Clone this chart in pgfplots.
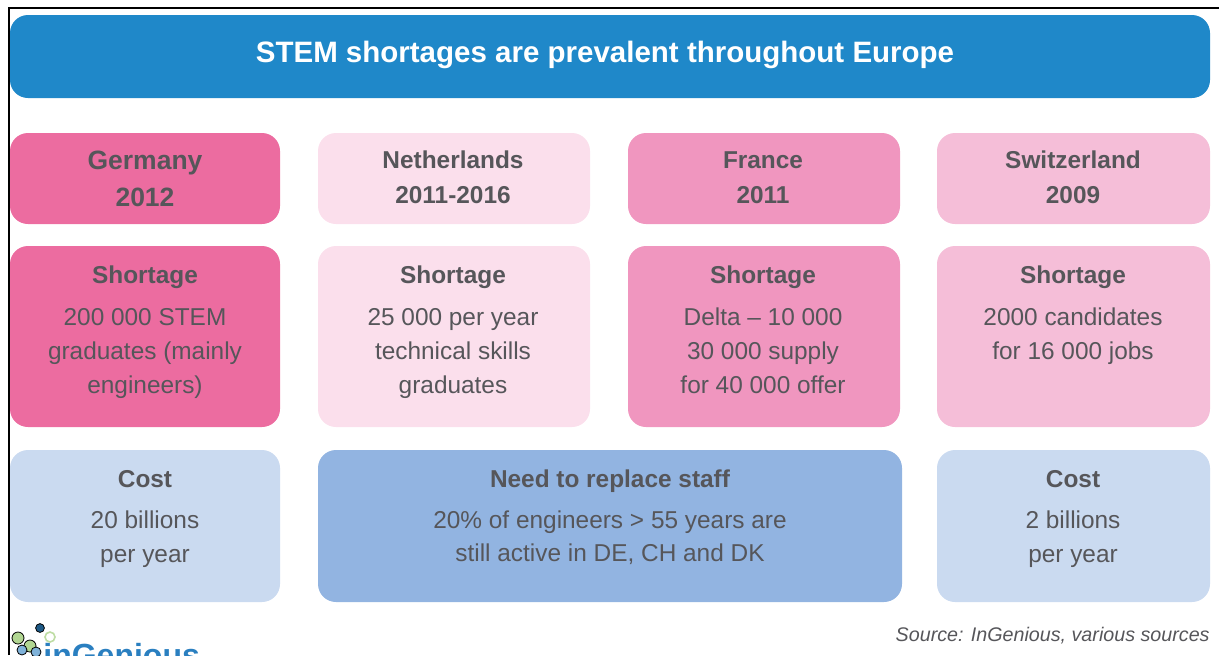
\documentclass[border=0pt]{standalone}
\usepackage{pgfplots}
\pgfplotsset{compat=1.18}
\usepackage{fontspec}
\setmainfont{Liberation Sans}
\definecolor{titlebg}{HTML}{1F88C9}
\definecolor{de}{HTML}{EC6CA0}
\definecolor{nl}{HTML}{FBDFEC}
\definecolor{fr}{HTML}{F096BF}
\definecolor{ch}{HTML}{F5BED8}
\definecolor{cost}{HTML}{CADAF0}
\definecolor{need}{HTML}{92B4E1}
\definecolor{tc}{HTML}{56565A}
\definecolor{logob}{HTML}{2A7FC0}
\definecolor{logog}{HTML}{7DBB4A}
\tikzset{
  hd/.style={font=\fontsize{12.2}{14}\selectfont\bfseries, text=tc, text height=8.7pt, text depth=0pt, inner sep=0pt},
  bd/.style={font=\fontsize{12.2}{14}\selectfont, text=tc, text height=8.7pt, text depth=0pt, inner sep=0pt},
}
% x1 y1 x2 y2 xmid color
\newcommand{\rbox}[6]{%
  \addplot[fill=#6, draw=none, rounded corners=9pt, forget plot]
    coordinates {(#5,#2) (#3,#2) (#3,#4) (#1,#4) (#1,#2)} -- cycle;}
\begin{document}
\begin{tikzpicture}
\begin{axis}[
  scale only axis, width=609.5pt, height=327.5pt,
  xmin=0, xmax=1219, ymin=0, ymax=655, y dir=reverse,
  hide axis, clip=true,
]
% title bar
\rbox{10}{15}{1210}{98}{610}{titlebg}
% row 1
\rbox{10}{133}{280}{224}{145}{de}
\rbox{318}{133}{590}{224}{454}{nl}
\rbox{628}{133}{900}{224}{764}{fr}
\rbox{937}{133}{1210}{224}{1073}{ch}
% row 2
\rbox{10}{246}{280}{427}{145}{de}
\rbox{318}{246}{590}{427}{454}{nl}
\rbox{628}{246}{900}{427}{764}{fr}
\rbox{937}{246}{1210}{427}{1073}{ch}
% row 3
\rbox{10}{450}{280}{602}{145}{cost}
\rbox{318}{450}{902}{602}{610}{need}
\rbox{937}{450}{1210}{602}{1073}{cost}
% logo dots
\addplot[only marks, mark=*, mark size=2.2pt, draw=none, fill=logob!70!black, forget plot] coordinates {(40,628)};
\addplot[only marks, mark=*, mark size=3pt, draw=none, fill=logog!60!white, forget plot] coordinates {(18,638) (30,646)};
\addplot[only marks, mark=*, mark size=2.5pt, draw=logog!50!white, fill=white, line width=0.8pt, forget plot] coordinates {(50,637)};
\addplot[only marks, mark=*, mark size=2.5pt, draw=none, fill=logob!60!white, forget plot] coordinates {(22,650) (36,652)};

% border
\draw[black, line width=1pt] (axis cs:9,655) -- (axis cs:9,8) -- (axis cs:1219,8);

% texts
\node[font=\fontsize{14.75}{17}\selectfont\bfseries, text=white, text height=10.6pt, text depth=0pt, inner sep=0pt] at (axis cs:605,52) {STEM shortages are prevalent throughout Europe};

\node[hd, font=\fontsize{13.25}{15}\selectfont\bfseries, text height=9.5pt] at (axis cs:145,160) {Germany};
\node[hd, font=\fontsize{13.25}{15}\selectfont\bfseries, text height=9.5pt] at (axis cs:145,197) {2012};
\node[hd] at (axis cs:453,160) {Netherlands};
\node[hd] at (axis cs:453,195) {2011-2016};
\node[hd] at (axis cs:763,160) {France};
\node[hd] at (axis cs:763,195) {2011};
\node[hd] at (axis cs:1073,160) {Switzerland};
\node[hd] at (axis cs:1073,195) {2009};

\node[hd] at (axis cs:145,275) {Shortage};
\node[bd] at (axis cs:145,317) {200 000 STEM};
\node[bd] at (axis cs:145,351) {graduates (mainly};
\node[bd] at (axis cs:145,385) {engineers)};

\node[hd] at (axis cs:453,275) {Shortage};
\node[bd] at (axis cs:453,317) {25 000 per year};
\node[bd] at (axis cs:453,351) {technical skills};
\node[bd] at (axis cs:453,385) {graduates};

\node[hd] at (axis cs:763,275) {Shortage};
\node[bd] at (axis cs:763,317) {Delta – 10 000};
\node[bd] at (axis cs:763,351) {30 000 supply};
\node[bd] at (axis cs:763,385) {for 40 000 offer};

\node[hd] at (axis cs:1073,275) {Shortage};
\node[bd] at (axis cs:1073,317) {2000 candidates};
\node[bd] at (axis cs:1073,351) {for 16 000 jobs};

\node[hd] at (axis cs:145,479) {Cost};
\node[bd] at (axis cs:145,520) {20 billions};
\node[bd] at (axis cs:145,554) {per year};

\node[hd] at (axis cs:610,479) {Need to replace staff};
\node[bd] at (axis cs:610,520) {20\% of engineers > 55 years are};
\node[bd] at (axis cs:610,553) {still active in DE, CH and DK};

\node[hd] at (axis cs:1073,479) {Cost};
\node[bd] at (axis cs:1073,520) {2 billions};
\node[bd] at (axis cs:1073,554) {per year};

\node[font=\fontsize{9.85}{12}\selectfont\itshape, text=tc, anchor=east, text height=7.1pt, text depth=0pt, inner sep=0pt] at (axis cs:1210,634) {Source: InGenious, various sources};

\node[font=\fontsize{16}{18}\selectfont\bfseries, text=logob, anchor=base west, inner sep=0pt] at (axis cs:43,666) {inGenious};
\end{axis}
\pgfresetboundingbox
\path[use as bounding box] (current axis.south west) rectangle (current axis.north east);
\end{tikzpicture}
\end{document}
